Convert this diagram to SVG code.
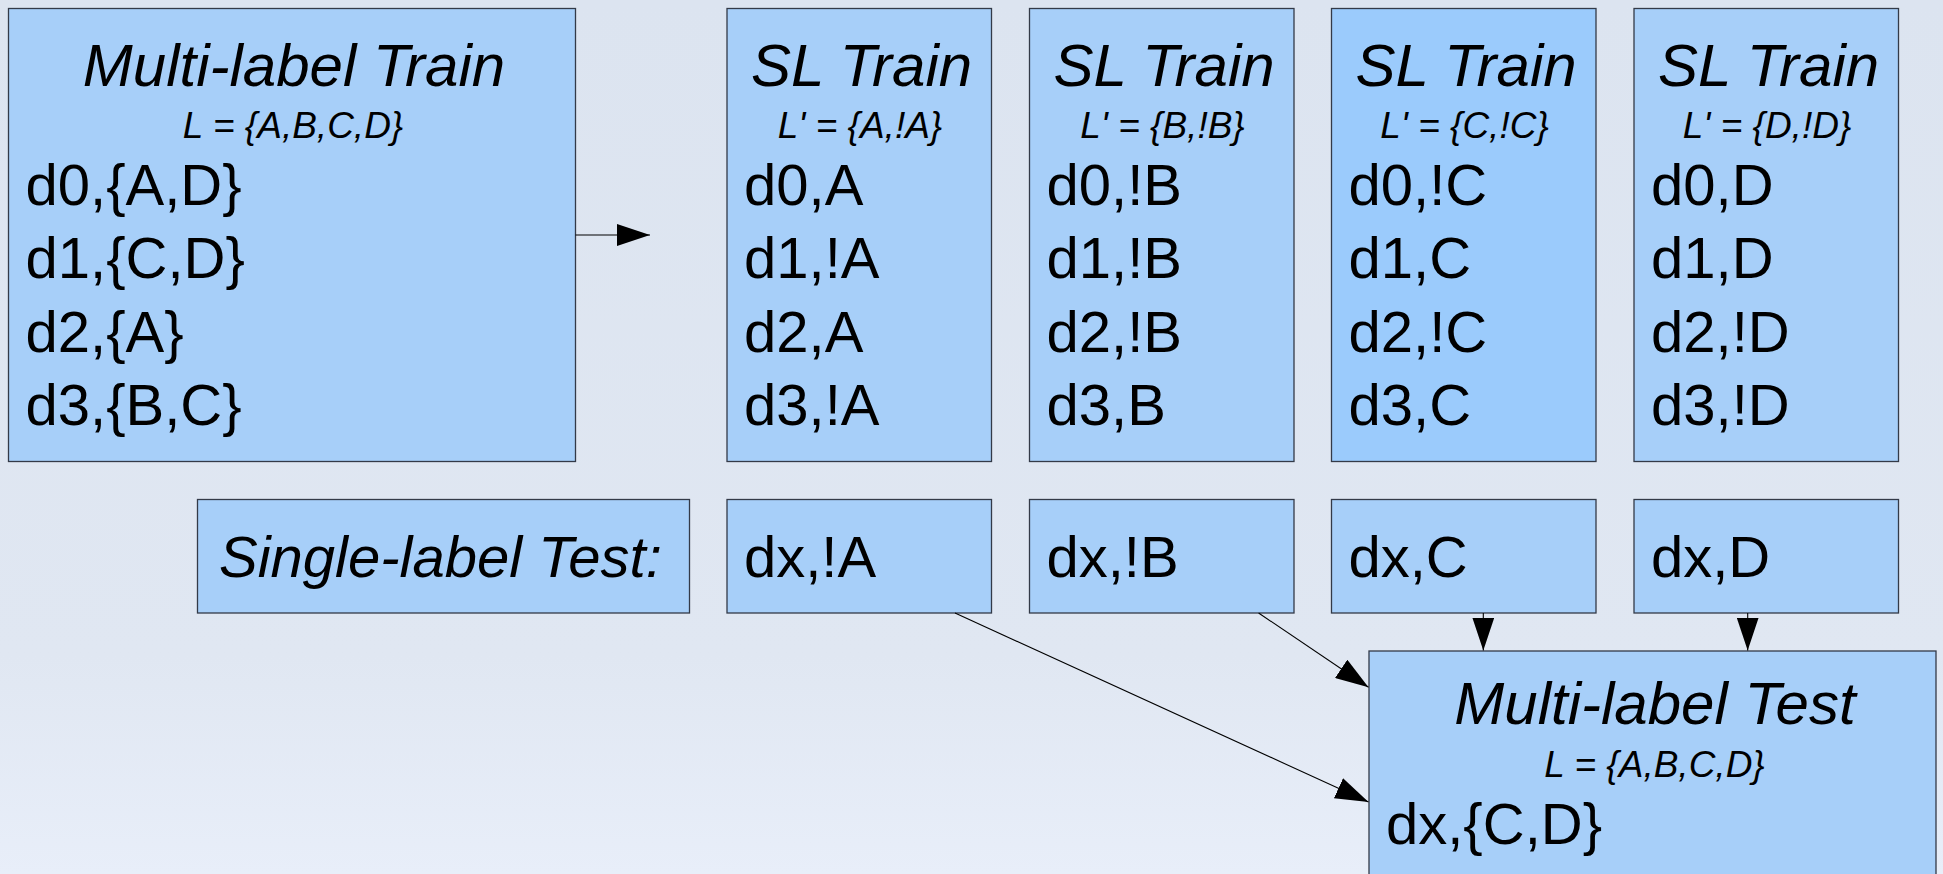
<svg xmlns="http://www.w3.org/2000/svg" width="1943" height="874" viewBox="0 0 1943 874">
<defs>
<linearGradient id="bg" x1="0" y1="0" x2="0" y2="1">
<stop offset="0" stop-color="#dce4f0"/>
<stop offset="0.75" stop-color="#e0e7f2"/>
<stop offset="1" stop-color="#e8eef9"/>
</linearGradient>
<marker id="ah" markerUnits="userSpaceOnUse" markerWidth="34" markerHeight="22" refX="33" refY="11" orient="auto" viewBox="0 0 34 22">
<path d="M0,0 L33,11 L0,22 Z" fill="#000"/>
</marker>
<style>
.box{fill:#a7cff9;stroke:#333a48;stroke-width:1.3}
.boxc{fill:#9bcbfc;stroke:#333a48;stroke-width:1.3}
.big{font-family:"Liberation Sans",Arial,sans-serif;font-size:58px;fill:#000}
.ttl{font-family:"Liberation Sans",Arial,sans-serif;font-size:60px;font-style:italic;fill:#000;text-anchor:middle}
.sub{font-family:"Liberation Sans",Arial,sans-serif;font-size:37px;font-style:italic;fill:#000;text-anchor:middle}
.con{stroke:#000;stroke-width:1.1;fill:none;marker-end:url(#ah)}
</style>
</defs>
<rect x="0" y="0" width="1943" height="874" fill="url(#bg)"/>

<g id="ml-train">
<rect class="box" x="8.5" y="8.5" width="567" height="453"/>
<text class="ttl" x="294" y="86">Multi-label Train</text>
<text class="sub" x="293" y="138">L = {A,B,C,D}</text>
<text class="big" x="25.5" y="205">d0,{A,D}</text>
<text class="big" x="25.5" y="278">d1,{C,D}</text>
<text class="big" x="25.5" y="351.5">d2,{A}</text>
<text class="big" x="25.5" y="425">d3,{B,C}</text>
</g>

<g id="sl-a">
<rect class="box" x="727" y="8.5" width="264.5" height="453"/>
<text class="ttl" x="861.5" y="86">SL Train</text>
<text class="sub" x="860" y="138">L' = {A,!A}</text>
<text class="big" x="744" y="205">d0,A</text>
<text class="big" x="744" y="278">d1,!A</text>
<text class="big" x="744" y="351.5">d2,A</text>
<text class="big" x="744" y="425">d3,!A</text>
</g>

<g id="sl-b">
<rect class="box" x="1029.5" y="8.5" width="264.5" height="453"/>
<text class="ttl" x="1164" y="86">SL Train</text>
<text class="sub" x="1162.5" y="138">L' = {B,!B}</text>
<text class="big" x="1046.5" y="205">d0,!B</text>
<text class="big" x="1046.5" y="278">d1,!B</text>
<text class="big" x="1046.5" y="351.5">d2,!B</text>
<text class="big" x="1046.5" y="425">d3,B</text>
</g>

<g id="sl-c">
<rect class="boxc" x="1331.5" y="8.5" width="264.5" height="453"/>
<text class="ttl" x="1466" y="86">SL Train</text>
<text class="sub" x="1464.5" y="138">L' = {C,!C}</text>
<text class="big" x="1348.5" y="205">d0,!C</text>
<text class="big" x="1348.5" y="278">d1,C</text>
<text class="big" x="1348.5" y="351.5">d2,!C</text>
<text class="big" x="1348.5" y="425">d3,C</text>
</g>

<g id="sl-d">
<rect class="box" x="1634" y="8.5" width="264.5" height="453"/>
<text class="ttl" x="1768.5" y="86">SL Train</text>
<text class="sub" x="1767" y="138">L' = {D,!D}</text>
<text class="big" x="1651" y="205">d0,D</text>
<text class="big" x="1651" y="278">d1,D</text>
<text class="big" x="1651" y="351.5">d2,!D</text>
<text class="big" x="1651" y="425">d3,!D</text>
</g>

<g id="sl-test-label">
<rect class="box" x="197.5" y="499.5" width="492" height="113.5"/>
<text class="big" font-style="italic" font-size="60" x="219" y="576.5">Single-label Test:</text>
</g>

<g id="test-a">
<rect class="box" x="727" y="499.5" width="264.5" height="113.5"/>
<text class="big" x="744" y="576.5">dx,!A</text>
</g>

<g id="test-b">
<rect class="box" x="1029.5" y="499.5" width="264.5" height="113.5"/>
<text class="big" x="1046.5" y="576.5">dx,!B</text>
</g>

<g id="test-c">
<rect class="box" x="1331.5" y="499.5" width="264.5" height="113.5"/>
<text class="big" x="1348.5" y="576.5">dx,C</text>
</g>

<g id="test-d">
<rect class="box" x="1634" y="499.5" width="264.5" height="113.5"/>
<text class="big" x="1651" y="576.5">dx,D</text>
</g>

<g id="ml-test">
<rect class="box" x="1369" y="651" width="567" height="453"/>
<text class="ttl" x="1655" y="724">Multi-label Test</text>
<text class="sub" x="1654.5" y="777">L = {A,B,C,D}</text>
<text class="big" x="1386" y="844">dx,{C,D}</text>
</g>

<g id="connectors">
<line class="con" x1="575.5" y1="235" x2="650" y2="235"/>
<line class="con" x1="955" y1="613" x2="1368.5" y2="802"/>
<line class="con" x1="1258.6" y1="613" x2="1368.5" y2="687.3"/>
<line class="con" x1="1483.3" y1="613" x2="1483.3" y2="650.5"/>
<line class="con" x1="1747.7" y1="613" x2="1747.7" y2="650.5"/>
</g>
</svg>
